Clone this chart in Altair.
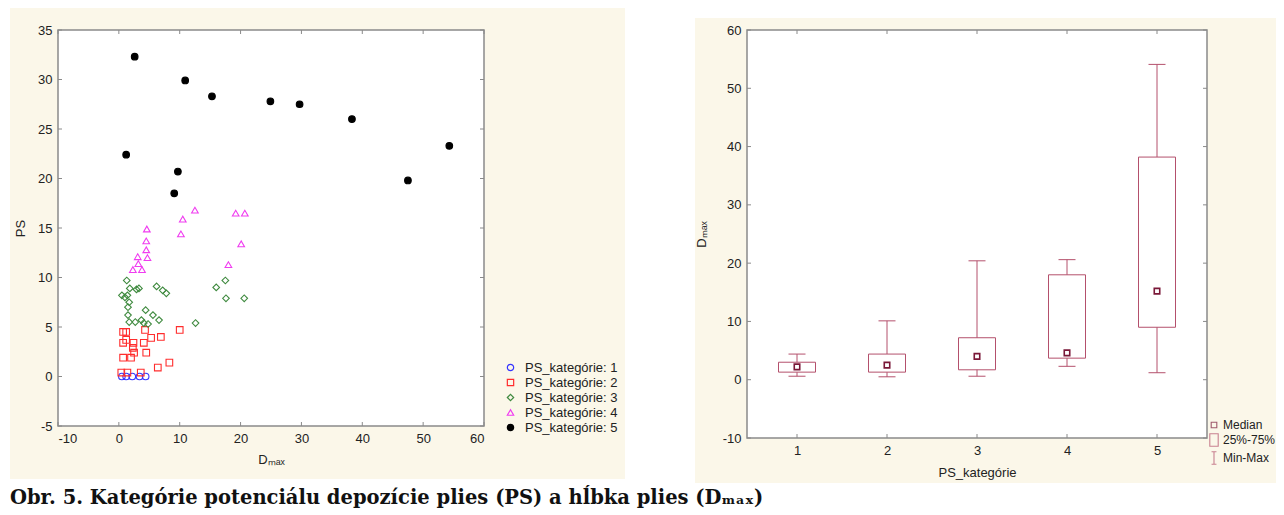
import altair as alt
import pandas as pd

# ---------------- data ----------------
cat_labels = ["PS_kategórie: 1", "PS_kategórie: 2", "PS_kategórie: 3",
              "PS_kategórie: 4", "PS_kategórie: 5"]

ps1_dmax = [0.5, 1.2, 2.2, 3.4, 4.4]
ps1_ps = [0.0, 0.0, 0.0, 0.0, 0.0]

ps2_dmax = [0.7, 1.2, 4.3, 10.0, 1.2, 0.7, 2.4, 4.1, 5.3, 6.9,
            2.3, 2.5, 4.5, 0.7, 2.0, 6.4, 8.3, 0.4, 1.4, 3.6]
ps2_ps = [4.5, 4.5, 4.7, 4.7, 3.7, 3.4, 3.4, 3.4, 3.9, 4.0,
          2.9, 2.4, 2.4, 1.9, 1.9, 0.9, 1.4, 0.4, 0.4, 0.4]

ps3_dmax = [1.3, 1.8, 2.9, 3.3, 6.2, 7.2, 7.8, 0.5, 1.4, 1.0, 1.7, 1.5, 4.4,
            5.6, 1.5, 6.6, 1.7, 2.7, 3.7, 4.1, 4.8, 12.6, 16.0, 17.5, 17.6, 20.6]
ps3_ps = [9.7, 8.9, 8.8, 8.9, 9.1, 8.7, 8.4, 8.2, 8.2, 8.0, 7.5, 7.0, 6.7,
          6.2, 6.2, 5.7, 5.5, 5.5, 5.7, 5.4, 5.3, 5.4, 9.0, 9.7, 7.9, 7.9]

ps4_dmax = [12.5, 10.5, 19.2, 20.7, 4.6, 10.2, 4.5, 20.1, 4.5, 3.1,
            4.7, 3.2, 18.0, 2.3, 3.8]
ps4_ps = [16.8, 15.9, 16.5, 16.5, 14.9, 14.4, 13.7, 13.4, 12.8, 12.1,
          12.0, 11.4, 11.3, 10.8, 10.8]

ps5_dmax = [2.6, 10.9, 15.3, 24.9, 29.7, 38.3, 54.3, 1.2, 9.7, 9.1, 47.5]
ps5_ps = [32.3, 29.9, 28.3, 27.8, 27.5, 26.0, 23.3, 22.4, 20.7, 18.5, 19.8]

box_cat = [1, 2, 3, 4, 5]
box_min = [0.6, 0.5, 0.6, 2.3, 1.2]
box_q1 = [1.3, 1.3, 1.7, 3.7, 9.0]
box_med = [2.2, 2.5, 4.0, 4.6, 15.2]
box_q3 = [3.0, 4.4, 7.2, 18.0, 38.2]
box_max = [4.4, 10.1, 20.4, 20.6, 54.1]

box_legend = ["Median", "25%-75%", "Min-Max"]

left_xticks = [-10, 0, 10, 20, 30, 40, 50, 60]
left_yticks = [-5, 0, 5, 10, 15, 20, 25, 30, 35]
right_xticks = [1, 2, 3, 4, 5]
right_yticks = [-10, 0, 10, 20, 30, 40, 50, 60]

caption = "Obr. 5. Kategórie potenciálu depozície plies (PS) a hĺbka plies (Dₘₐₓ)"

# ---------------- tables ----------------
rows = []
for lab, xs, ys in zip(cat_labels,
                       [ps1_dmax, ps2_dmax, ps3_dmax, ps4_dmax, ps5_dmax],
                       [ps1_ps, ps2_ps, ps3_ps, ps4_ps, ps5_ps]):
    for xv, yv in zip(xs, ys):
        rows.append({"dmax": xv, "ps": yv, "cat": lab})
scatter_df = pd.DataFrame(rows)

box_df = pd.DataFrame({"k": box_cat, "mn": box_min, "q1": box_q1,
                       "med": box_med, "q3": box_q3, "mx": box_max})
leg_df = pd.DataFrame({"leg": box_legend})
one = pd.DataFrame({"z": [0]})

# ---------------- styles ----------------
FONT = "Liberation Sans"
CREAM = "#fbf7e9"
FRAME = "#8a8a8a"
BOX = "#b4506c"
MED = "#7a1838"
TXT = "#222222"

LW, LH = 426, 396
RW, RH = 460, 408


def axis(values, title, **kw):
    args = dict(values=values, title=title, labelFont=FONT, labelFontSize=13,
                labelColor=TXT, titleFont=FONT, titleFontSize=13,
                titleFontWeight="normal", titleColor=TXT, ticks=False,
                domain=False, grid=False, labelPadding=6, zindex=2,
                labelExpr="replace(datum.label, '−', '-')")
    args.update(kw)
    return alt.Axis(**args)


def background(w, h, x1, x2, y1, y2, top_bound):
    reserve = alt.Chart(one).mark_rect(opacity=0).encode(
        x=alt.value(x1), x2=alt.value(x1 + 2), y=alt.value(top_bound), y2=alt.value(y1))
    cream = alt.Chart(one).mark_rect(color=CREAM).encode(
        x=alt.value(x1), x2=alt.value(x2), y=alt.value(y1), y2=alt.value(y2))
    white = alt.Chart(one).mark_rect(fill="white", stroke=FRAME, strokeWidth=1.5).encode(
        x=alt.value(0), x2=alt.value(w), y=alt.value(0), y2=alt.value(h))
    return reserve, cream, white


def inner_ticks(xvals, yvals, xs, ys, xax, yax, w, h):
    tx = alt.Chart(pd.DataFrame({"v": xvals}))
    ty = alt.Chart(pd.DataFrame({"v": yvals}))
    xe = alt.X("v:Q", scale=xs, axis=xax)
    ye = alt.Y("v:Q", scale=ys, axis=yax)
    return [
        tx.mark_rule(color=FRAME).encode(x=xe, y=alt.value(h - 4), y2=alt.value(h)),
        tx.mark_rule(color=FRAME).encode(x=xe, y=alt.value(0), y2=alt.value(4)),
        ty.mark_rule(color=FRAME).encode(y=ye, x=alt.value(0), x2=alt.value(4)),
        ty.mark_rule(color=FRAME).encode(y=ye, x=alt.value(w - 4), x2=alt.value(w)),
    ]


# ---------------- left: scatter ----------------
lxs = alt.Scale(domain=[-10, 60], nice=False, zero=False)
lys = alt.Scale(domain=[-5, 35], nice=False, zero=False)
lxa = axis(left_xticks, "Dₘₐₓ", titlePadding=8)
lya = axis(left_yticks, "PS", titlePadding=10)

left_legend = alt.Legend(title=None, orient="none", legendX=446, legendY=331,
                         labelFont=FONT, labelFontSize=13, labelColor=TXT,
                         symbolSize=40, symbolStrokeWidth=1.2, labelOffset=8,
                         rowPadding=1)

scatter = alt.Chart(scatter_df).mark_point(size=44, strokeWidth=1.1, opacity=1).encode(
    x=alt.X("dmax:Q", scale=lxs, axis=lxa),
    y=alt.Y("ps:Q", scale=lys, axis=lya),
    stroke=alt.Stroke("cat:N", legend=left_legend, scale=alt.Scale(
        domain=cat_labels, range=["#3535ff", "#ff2d2d", "#3f8a3f", "#f03cf0", "#000000"])),
    fill=alt.Fill("cat:N", legend=left_legend, scale=alt.Scale(
        domain=cat_labels, range=["transparent", "transparent", "transparent", "transparent", "#000000"])),
    shape=alt.Shape("cat:N", legend=left_legend, scale=alt.Scale(
        domain=cat_labels, range=["circle", "square", "diamond", "triangle-up", "circle"])),
)

lres, lcream, lwhite = background(LW, LH, -48, 567, -22, 449, -22)
left = alt.layer(lres, lcream, lwhite,
                 *inner_ticks(left_xticks, left_yticks, lxs, lys, lxa, lya, LW, LH),
                 scatter).properties(width=LW, height=LH)

# ---------------- right: box plot ----------------
rxs = alt.Scale(domain=[0.5, 5.5], nice=False, zero=False)
rys = alt.Scale(domain=[-10, 60], nice=False, zero=False)
rxa = axis(right_xticks, "PS_kategórie", format="d", titlePadding=9)
rya = axis(right_yticks, "Dₘₐₓ", titlePadding=14)

right_legend = alt.Legend(title=None, orient="none", legendX=459, legendY=387,
                          labelFont=FONT, labelFontSize=12, labelColor=TXT,
                          symbolSize=196, symbolStrokeWidth=1.1, labelOffset=1,
                          rowPadding=0)
SQ = "M-0.4,-0.4H0.4V0.4H-0.4Z"
RECT = "M-0.6,-0.9H0.6V0.9H-0.6Z"
IBEAM = "M-0.35,-0.9H0.35M0,-0.9V0.9M-0.35,0.9H0.35"

proxy = alt.Chart(leg_df).mark_point(filled=False).encode(
    x=alt.value(20), y=alt.value(20),
    shape=alt.Shape("leg:N", legend=right_legend,
                    scale=alt.Scale(domain=box_legend, range=[SQ, RECT, IBEAM])),
    stroke=alt.Stroke("leg:N", legend=right_legend,
                      scale=alt.Scale(domain=box_legend, range=[MED, BOX, BOX])),
)

bx = alt.Chart(box_df)
xk = alt.X("k:Q", scale=rxs, axis=rxa)

whisker = bx.mark_rule(color=BOX, strokeWidth=1).encode(
    x=xk, y=alt.Y("mn:Q", scale=rys, axis=rya), y2="mx:Q")
cap_lo = bx.mark_tick(orient="horizontal", size=17, thickness=1, color=BOX, opacity=1).encode(
    x=xk, y=alt.Y("mn:Q", scale=rys, axis=rya))
cap_hi = bx.mark_tick(orient="horizontal", size=17, thickness=1, color=BOX, opacity=1).encode(
    x=xk, y=alt.Y("mx:Q", scale=rys, axis=rya))
boxes = bx.mark_bar(size=37, fill="white", stroke=BOX, strokeWidth=1).encode(
    x=xk, y=alt.Y("q1:Q", scale=rys, axis=rya), y2="q3:Q")
medians = bx.mark_square(size=30, fill="white", stroke=MED, strokeWidth=1.6, opacity=1).encode(
    x=xk, y=alt.Y("med:Q", scale=rys, axis=rya))

rres, rcream, rwhite = background(RW, RH, -52, 529, -12, 453, -16)
right = alt.layer(rres, rcream, proxy, rwhite,
                  *inner_ticks(right_xticks, right_yticks, rxs, rys, rxa, rya, RW, RH),
                  whisker, cap_lo, cap_hi, boxes, medians).properties(width=RW, height=RH)

chart = alt.hconcat(left, right, spacing=70).resolve_scale(
    stroke="independent", fill="independent", shape="independent"
).resolve_legend(
    stroke="independent", fill="independent", shape="independent"
).properties(
    title=alt.TitleParams(caption, orient="bottom", anchor="start",
                          font="DejaVu Serif", fontSize=19.5, fontWeight="bold",
                          color="#111111", offset=6),
    padding={"left": 2, "top": 0, "right": 0, "bottom": 0},
    background="white",
).configure_view(stroke=None)

chart.save("out.html", embed_options={"renderer": "svg", "actions": False})
